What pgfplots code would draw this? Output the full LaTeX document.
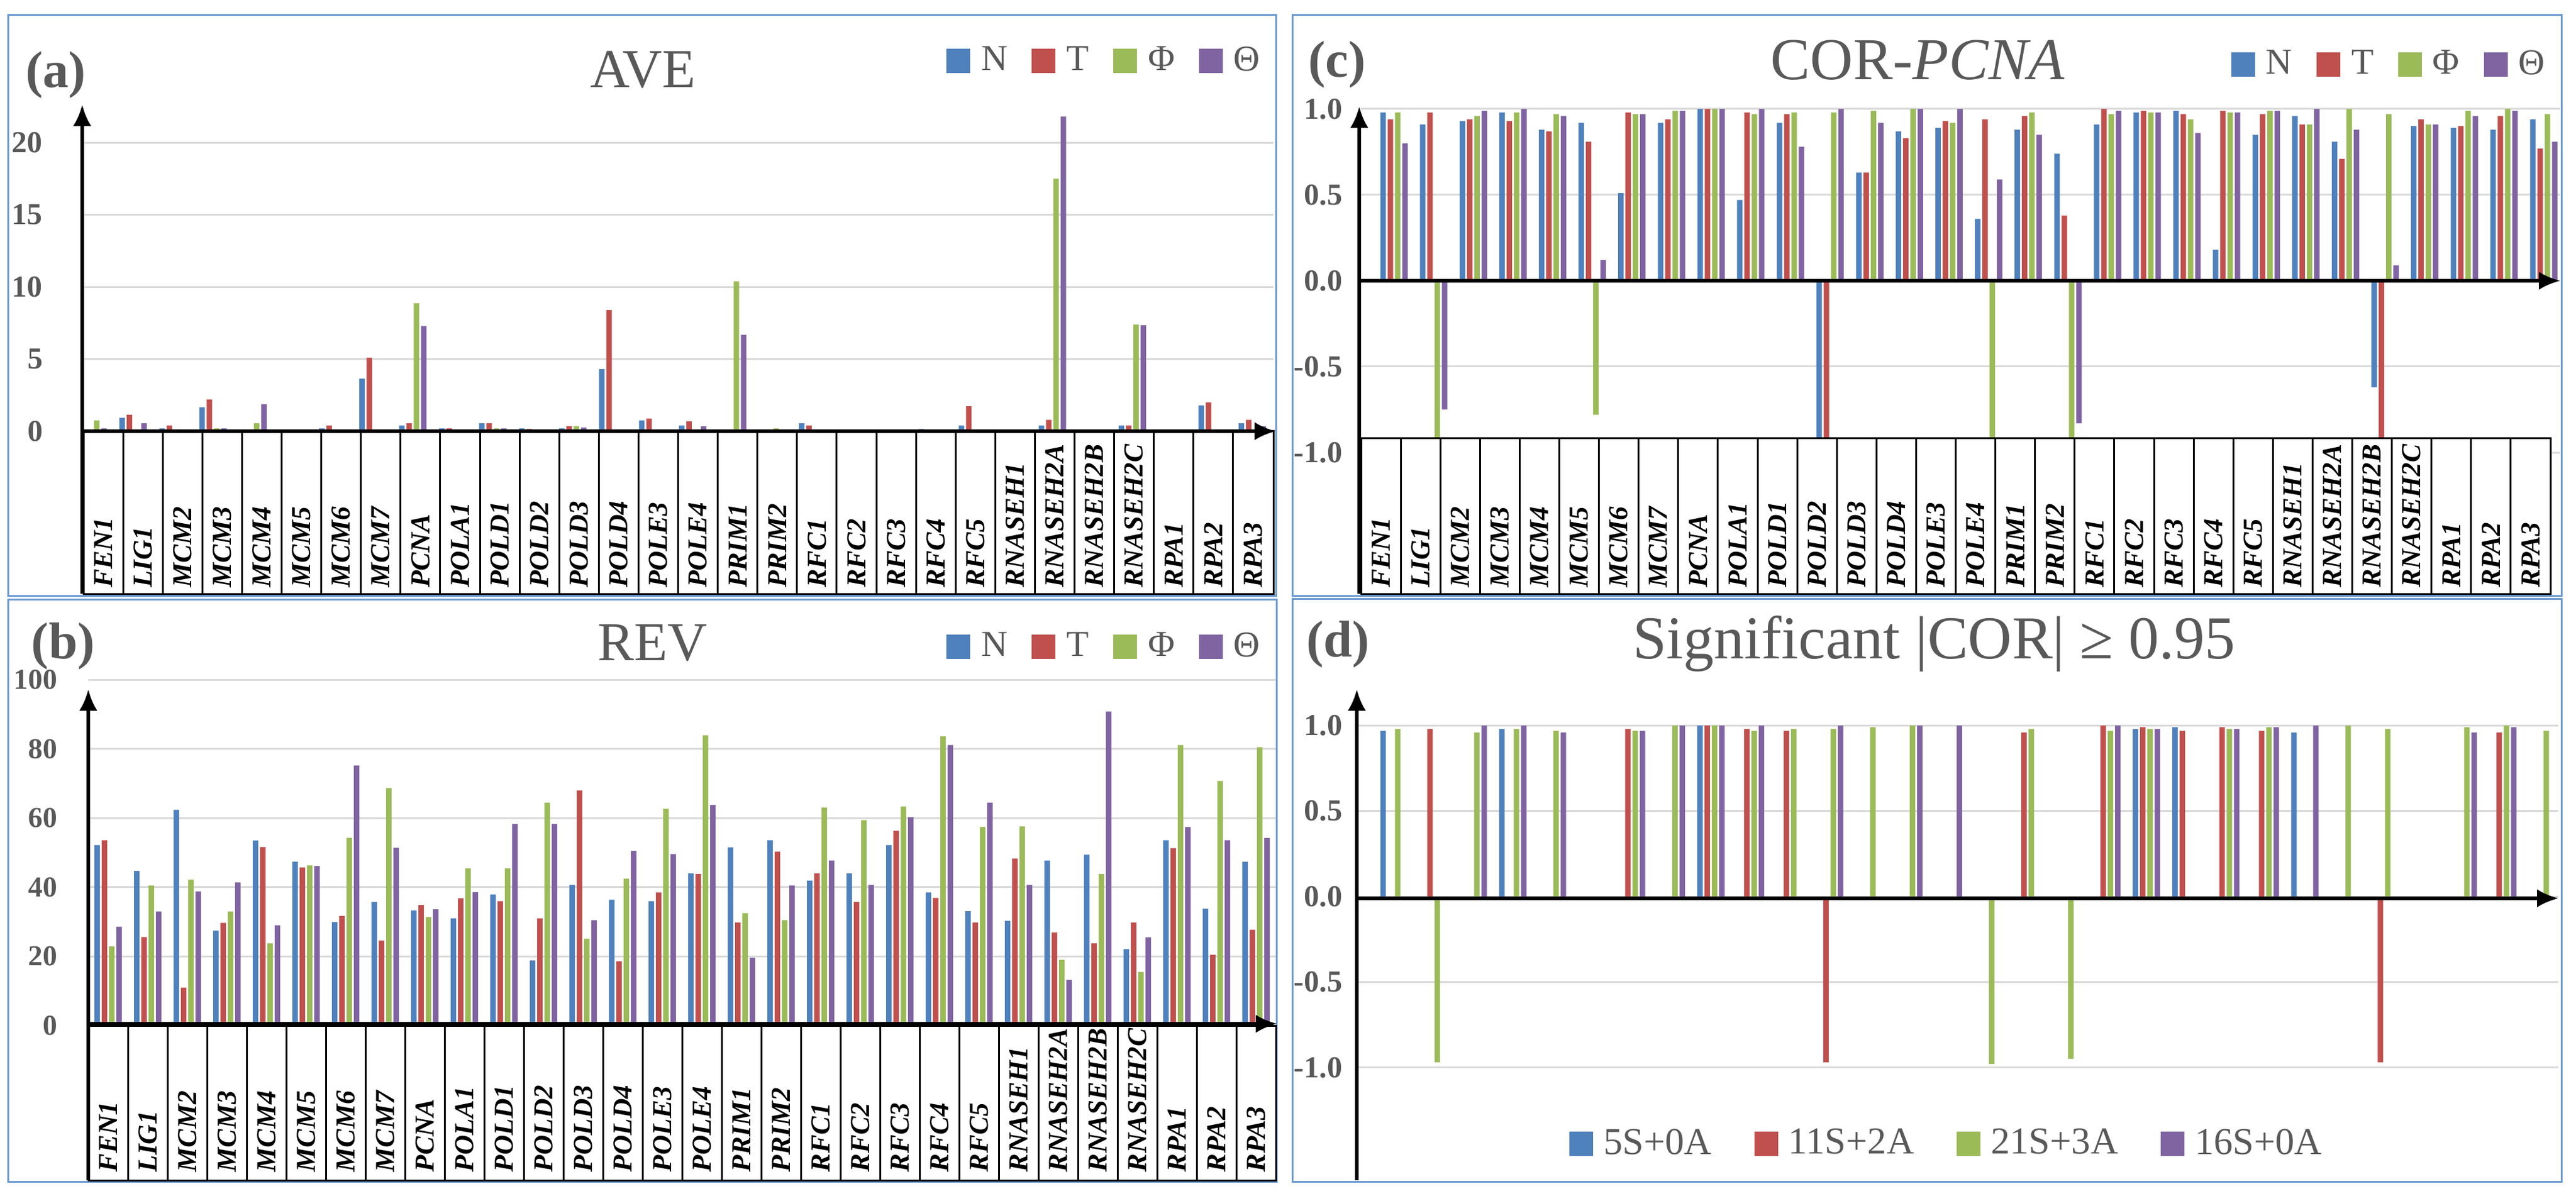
\documentclass[border=0pt]{standalone}
\usepackage{pgfplots}
\pgfplotsset{compat=1.18}
\usepackage{pgfplotstable}
\usepackage{fontspec}
\setmainfont{Liberation Serif}
\usetikzlibrary{arrows.meta}
\definecolor{cN}{HTML}{4F81BD}
\definecolor{cT}{HTML}{C0504D}
\definecolor{cF}{HTML}{9BBB59}
\definecolor{cH}{HTML}{8064A2}
\definecolor{tgray}{HTML}{595959}
\definecolor{ggray}{HTML}{D9D9D9}
\definecolor{bblue}{HTML}{6C9BD2}

\pgfplotstableread{
i N T F H
0 0.1 0.1 0.74 0.2
1 0.92 1.13 0.05 0.55
2 0.2 0.4 0.08 0.05
3 1.66 2.19 0.2 0.2
4 0.05 0.05 0.55 1.87
5 0.05 0.05 0.05 0.05
6 0.2 0.4 0.03 0.03
7 3.64 5.09 0.02 0.02
8 0.4 0.55 8.87 7.28
9 0.2 0.2 0.05 0.05
10 0.55 0.55 0.2 0.2
11 0.2 0.15 0.05 0.05
12 0.2 0.35 0.35 0.26
13 4.3 8.39 0.02 0.02
14 0.74 0.87 0.03 0.03
15 0.4 0.69 0.02 0.34
16 0.02 0.02 10.37 6.68
17 0.05 0.05 0.2 0.05
18 0.55 0.4 0.05 0.05
19 0.05 0.1 0.05 0.05
20 0.02 0.02 0.02 0.02
21 0.15 0.05 0.05 0.05
22 0.4 1.72 0.02 0.02
23 0.05 0.05 0.05 0.05
24 0.4 0.79 17.5 21.8
25 0.05 0.05 0.05 0.05
26 0.4 0.4 7.39 7.34
27 0.02 0.02 0.02 0.02
28 1.79 2.0 0.02 0.02
29 0.55 0.79 0.05 0.34
}\tabA

\pgfplotstableread{
i N T F H
0 52.2 53.6 22.9 28.6
1 44.7 25.6 40.5 33.0
2 62.4 11.0 42.2 38.8
3 27.5 29.7 33.0 41.4
4 53.5 51.6 23.8 29.0
5 47.4 45.7 46.3 46.1
6 29.9 31.7 54.3 75.2
7 35.7 24.6 68.7 51.4
8 33.3 34.9 31.4 33.6
9 31.0 36.8 45.5 38.6
10 37.9 36.0 45.5 58.3
11 18.8 31.0 64.4 58.3
12 40.7 68.0 25.1 30.5
13 36.4 18.6 42.5 50.5
14 36.0 38.5 62.7 49.6
15 44.0 43.8 83.9 63.8
16 51.5 29.8 32.5 19.6
17 53.6 50.3 30.5 40.5
18 41.9 44.0 63.0 47.7
19 44.0 35.7 59.4 40.7
20 52.2 56.3 63.3 60.3
21 38.5 36.9 83.6 81.1
22 33.1 29.8 57.4 64.4
23 30.3 48.3 57.6 40.7
24 47.7 26.9 19.0 13.2
25 49.4 23.8 43.8 90.8
26 22.1 29.8 15.5 25.5
27 53.6 51.3 81.1 57.4
28 33.8 20.5 70.7 53.6
29 47.4 27.7 80.5 54.2
}\tabB

\pgfplotstableread{
i N T F H
0 0.98 0.94 0.98 0.80
1 0.91 0.98 -0.96 -0.75
2 0.93 0.94 0.96 0.99
3 0.98 0.93 0.98 1.00
4 0.88 0.87 0.97 0.96
5 0.92 0.81 -0.78 0.12
6 0.51 0.98 0.97 0.97
7 0.92 0.94 0.99 0.99
8 1.00 1.00 1.00 1.00
9 0.47 0.98 0.97 1.00
10 0.92 0.97 0.98 0.78
11 -0.93 -0.97 0.98 1.00
12 0.63 0.63 0.99 0.92
13 0.87 0.83 1.00 1.00
14 0.89 0.93 0.92 1.00
15 0.36 0.94 -0.98 0.59
16 0.88 0.96 0.98 0.85
17 0.74 0.38 -0.95 -0.83
18 0.91 1.00 0.97 0.99
19 0.98 0.99 0.98 0.98
20 0.99 0.97 0.94 0.86
21 0.18 0.99 0.98 0.98
22 0.85 0.97 0.99 0.99
23 0.96 0.91 0.91 1.00
24 0.81 0.71 1.00 0.88
25 -0.62 -0.97 0.97 0.09
26 0.90 0.94 0.91 0.91
27 0.89 0.90 0.99 0.96
28 0.88 0.96 1.00 0.99
29 0.94 0.77 0.97 0.81
}\tabC

\newcommand\catlist{FEN1,LIG1,MCM2,MCM3,MCM4,MCM5,MCM6,MCM7,PCNA,POLA1,POLD1,POLD2,POLD3,POLD4,POLE3,POLE4,PRIM1,PRIM2,RFC1,RFC2,RFC3,RFC4,RFC5,RNASEH1,RNASEH2A,RNASEH2B,RNASEH2C,RPA1,RPA2,RPA3}

\pgfplotsset{
  panel/.style={
    scale only axis, anchor=south west,
    axis line style={draw=none}, tick style={draw=none},
    xtick=\empty, ymajorgrids,
    grid style={draw=ggray, line width=0.6pt},
    ybar, bar width=1.8pt,
    yticklabel style={font=\fontsize{10}{12}\selectfont\bfseries, text=tgray, anchor=east, inner sep=0pt},
    legend style={draw=none, fill=none, inner sep=0pt, outer sep=0pt,
      legend columns=4, anchor=west,
      font=\fontsize{12}{14}\selectfont, text=tgray,
      nodes={inner sep=0pt},
      /tikz/every odd column/.append style={column sep=3.6pt},
      /tikz/every even column/.append style={column sep=8pt}},
  },
  sq/.style={legend image code/.code={\fill[#1] (0pt,-3.8pt) rectangle (7.4pt,3.8pt);}},
}

\begin{document}
\begin{tikzpicture}
\useasboundingbox (0,0) rectangle (846pt,394.2pt);
% panel borders
\draw[bblue, line width=0.6pt] (2.6pt,198.6pt) rectangle (419pt,389.2pt);
\draw[bblue, line width=0.6pt] (2.6pt,6.2pt) rectangle (419.2pt,197.4pt);
\draw[bblue, line width=0.6pt] (424.4pt,198.6pt) rectangle (841.2pt,389.2pt);
\draw[bblue, line width=0.6pt] (424.4pt,6.2pt) rectangle (841.2pt,197.6pt);

% ---------------- (a) AVE
\begin{axis}[panel, at={(27.4pt,252.6pt)}, width=390.8pt, height=107.12pt,
  xmin=-0.5, xmax=29.5, ymin=0, ymax=22.6,
  ytick={0,5,10,15,20}, yticklabels={0,5,10,15,20},
  yticklabel style={xshift=-13.2pt},
  legend style={at={(0.7252,1.1352)}}]
\addlegendimage{sq=cN}\addlegendentry{N}
\addlegendimage{sq=cT}\addlegendentry{T}
\addlegendimage{sq=cF}\addlegendentry{Φ}
\addlegendimage{sq=cH}\addlegendentry{Θ}
\addplot[fill=cN, draw=none, bar shift=-3.6pt, forget plot] table[x expr=\thisrow{i}*1.0077-0.256, y=N]{\tabA};
\addplot[fill=cT, draw=none, bar shift=-1.2pt, forget plot] table[x expr=\thisrow{i}*1.0077-0.256, y=T]{\tabA};
\addplot[fill=cF, draw=none, bar shift=1.2pt, forget plot] table[x expr=\thisrow{i}*1.0077-0.256, y=F]{\tabA};
\addplot[fill=cH, draw=none, bar shift=3.6pt, forget plot] table[x expr=\thisrow{i}*1.0077-0.256, y=H]{\tabA};
\end{axis}

% ---------------- (b) REV
\begin{axis}[panel, at={(29pt,57.4pt)}, width=390pt, height=113.6pt,
  xmin=-0.5, xmax=29.5, ymin=0, ymax=100,
  ytick={0,20,40,60,80,100}, yticklabels={0,20,40,60,80,100},
  yticklabel style={xshift=-10pt, font=\fontsize{9.5}{11}\selectfont\bfseries},
  legend style={at={(0.7226,1.0951)}}]
\addlegendimage{sq=cN}\addlegendentry{N}
\addlegendimage{sq=cT}\addlegendentry{T}
\addlegendimage{sq=cF}\addlegendentry{Φ}
\addlegendimage{sq=cH}\addlegendentry{Θ}
\addplot[fill=cN, draw=none, bar shift=-3.6pt, forget plot] table[x=i, y=N]{\tabB};
\addplot[fill=cT, draw=none, bar shift=-1.2pt, forget plot] table[x=i, y=T]{\tabB};
\addplot[fill=cF, draw=none, bar shift=1.2pt, forget plot] table[x=i, y=F]{\tabB};
\addplot[fill=cH, draw=none, bar shift=3.6pt, forget plot] table[x=i, y=H]{\tabB};
\end{axis}

% ---------------- (c) COR-PCNA
\begin{axis}[panel, at={(447pt,245.6pt)}, width=393.86pt, height=114.49pt,
  xmin=-0.5, xmax=29.75, ymin=-1, ymax=1.03,
  ytick={-1,-0.5,0,0.5,1}, yticklabels={-1.0,-0.5,0.0,0.5,1.0},
  yticklabel style={xshift=-6pt},
  legend style={at={(0.7256,1.1127)}}]
\addlegendimage{sq=cN}\addlegendentry{N}
\addlegendimage{sq=cT}\addlegendentry{T}
\addlegendimage{sq=cF}\addlegendentry{Φ}
\addlegendimage{sq=cH}\addlegendentry{Θ}
\addplot[fill=cN, draw=none, bar shift=-3.6pt, forget plot] table[x expr=\thisrow{i}+0.33, y=N]{\tabC};
\addplot[fill=cT, draw=none, bar shift=-1.2pt, forget plot] table[x expr=\thisrow{i}+0.33, y=T]{\tabC};
\addplot[fill=cF, draw=none, bar shift=1.2pt, forget plot] table[x expr=\thisrow{i}+0.33, y=F]{\tabC};
\addplot[fill=cH, draw=none, bar shift=3.6pt, forget plot] table[x expr=\thisrow{i}+0.33, y=H]{\tabC};
\end{axis}

% ---------------- (d) Significant
\begin{axis}[panel, at={(445.6pt,6.6pt)}, width=394.6pt, height=161.12pt,
  xmin=-0.938, xmax=29.4, ymin=-1.66, ymax=1.21,
  ytick={-1,-0.5,0,0.5,1}, yticklabels={-1.0,-0.5,0.0,0.5,1.0},
  yticklabel style={xshift=-4.6pt},
  legend style={at={(0.1769,0.0745)}, font=\fontsize{12.5}{14}\selectfont,
    /tikz/every odd column/.append style={column sep=3.4pt},
    /tikz/every even column/.append style={column sep=14pt}}]
\addlegendimage{sq=cN}\addlegendentry{5S+0A}
\addlegendimage{sq=cT}\addlegendentry{11S+2A}
\addlegendimage{sq=cF}\addlegendentry{21S+3A}
\addlegendimage{sq=cH}\addlegendentry{16S+0A}
\addplot[fill=cN, draw=none, bar shift=-3.6pt, forget plot] coordinates {(0,0.97) (3,0.98) (8,1.0) (19,0.98) (20,0.99) (23,0.96)};
\addplot[fill=cT, draw=none, bar shift=-1.2pt, forget plot] coordinates {(1,0.98) (6,0.98) (8,1.0) (9,0.98) (10,0.97) (11,-0.97) (16,0.96) (18,1.0) (19,0.99) (20,0.97) (21,0.99) (22,0.97) (25,-0.97) (28,0.96)};
\addplot[fill=cF, draw=none, bar shift=1.2pt, forget plot] coordinates {(0,0.98) (1,-0.97) (2,0.96) (3,0.98) (4,0.97) (6,0.97) (7,1.0) (8,1.0) (9,0.97) (10,0.98) (11,0.98) (12,0.99) (13,1.0) (15,-0.98) (16,0.98) (17,-0.95) (18,0.97) (19,0.98) (21,0.98) (22,0.99) (24,1.0) (25,0.98) (27,0.99) (28,1.0) (29,0.97)};
\addplot[fill=cH, draw=none, bar shift=3.6pt, forget plot] coordinates {(2,1.0) (3,1.0) (4,0.96) (6,0.97) (7,1.0) (8,1.0) (9,1.0) (11,1.0) (13,1.0) (14,1.0) (18,1.0) (19,0.98) (21,0.98) (22,0.99) (23,1.0) (27,0.96) (28,0.99)};
\end{axis}

% ---------------- tables of category names
\tikzset{catlab/.style={rotate=90, anchor=west, inner sep=0pt, font=\fontsize{9}{10}\selectfont\bfseries\itshape}}
% (a)
\fill[white] (27.4pt,199.2pt) rectangle (418.2pt,252.6pt);
\draw[line width=0.6pt] (27.4pt,199.2pt) rectangle (418.2pt,252.6pt);
\foreach \k in {1,...,29} \draw[line width=0.6pt] ({27.4pt+\k*13.02pt},199.2pt) -- ({27.4pt+\k*13.02pt},252.6pt);
\foreach \n [count=\k from 0] in \catlist \node[catlab] at ({27.4pt+(\k+0.5)*13.02pt},201pt) {\n};
% (b)
\fill[white] (29pt,6.6pt) rectangle (419pt,57.4pt);
\draw[line width=0.6pt] (29pt,6.6pt) rectangle (419pt,57.4pt);
\foreach \k in {1,...,29} \draw[line width=0.6pt] ({29pt+\k*13pt},6.6pt) -- ({29pt+\k*13pt},57.4pt);
\foreach \n [count=\k from 0] in \catlist \node[catlab] at ({29pt+(\k+0.5)*13pt},9.2pt) {\n};
% (c)
\fill[white] (447pt,199.2pt) rectangle (837.6pt,250.2pt);
\draw[line width=0.6pt] (447pt,199.2pt) rectangle (837.6pt,250.2pt);
\foreach \k in {1,...,29} \draw[line width=0.6pt] ({447pt+\k*13.02pt},199.2pt) -- ({447pt+\k*13.02pt},250.2pt);
\foreach \n [count=\k from 0] in \catlist \node[catlab] at ({447pt+(\k+0.5)*13.02pt},201pt) {\n};

% ---------------- axis lines with arrows
\tikzset{ax/.style={line width=1.1pt, -{Latex[length=7pt,width=6pt]}}}
\draw[ax] (27pt,199.2pt) -- (27pt,359.8pt);
\draw[ax] (27pt,252.6pt) -- (419pt,252.6pt);
\draw[ax] (29pt,6.6pt) -- (29pt,167.8pt);
\draw[ax] (29pt,58pt) -- (419.4pt,58pt);
\draw[ax] (446.4pt,199.2pt) -- (446.4pt,359.2pt);
\draw[ax] (446.4pt,302pt) -- (840.8pt,302pt);
\draw[ax] (445.6pt,6.6pt) -- (445.6pt,167.8pt);
\draw[ax] (445.6pt,99.2pt) -- (840.2pt,99.2pt);

% ---------------- panel labels and titles
\tikzset{plab/.style={anchor=base west, inner sep=0pt, text=tgray, font=\fontsize{17}{20}\selectfont\bfseries},
         ttl/.style={anchor=base, inner sep=0pt, text=tgray}}
\node[plab] at (8.2pt,365.4pt) {(a)};
\node[plab] at (10.2pt,178pt) {(b)};
\node[plab] at (429.4pt,368.8pt) {(c)};
\node[plab] at (428.8pt,178.6pt) {(d)};
\node[ttl, font=\fontsize{18}{20}\selectfont] at (211.2pt,365.4pt) {AVE};
\node[ttl, font=\fontsize{18}{20}\selectfont] at (214.2pt,177.4pt) {REV};
\node[ttl, font=\fontsize{19.5}{22}\selectfont] at (629.8pt,368pt) {COR-\textit{PCNA}};
\node[ttl, font=\fontsize{20}{22}\selectfont] at (635.2pt,178pt) {Significant |COR| ≥ 0.95};
\end{tikzpicture}
\end{document}
